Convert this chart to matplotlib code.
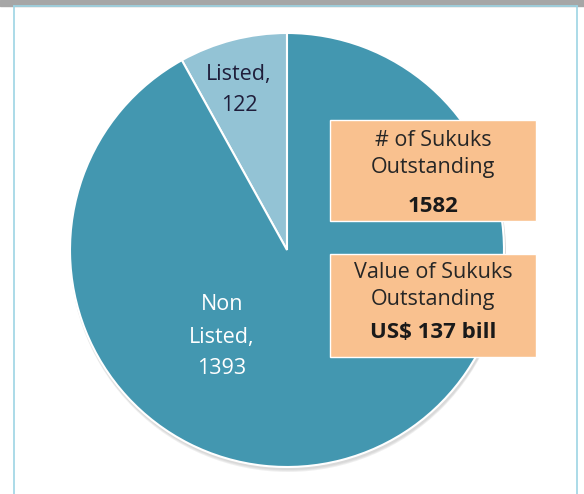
import matplotlib.pyplot as plt
from matplotlib.patches import Rectangle, Circle

plt.rcParams['font.family'] = ['Open Sans', 'DejaVu Sans']

# data
labels = ['Listed', 'Non\nListed']
counts = [122, 1393]
colors = ['#93C3D5', '#4397B0']
total_sukuks = 1582
value_text = 'US$ 137 bill'

W, H = 584, 494
fig = plt.figure(figsize=(W / 100, H / 100), dpi=100)
ax = fig.add_axes([0, 0, 1, 1])

# frame: grey strip on top, thin light blue border
ax.add_patch(Rectangle((0, H - 6), W, 6, color='#A6A6A6', zorder=1))
ax.plot([13.5, 13.5], [0, H - 6.5], color='#9DD4E4', lw=1.2, zorder=1)
ax.plot([577, 577], [0, H - 6.5], color='#9DD4E4', lw=1.2, zorder=1)
ax.plot([13.5, 577], [H - 6.5, H - 6.5], color='#9DD4E4', lw=1.2, zorder=1)

cx, cy, r = 287, H - 250, 217

# soft shadow under the pie
for i, a in enumerate([0.10, 0.10, 0.12]):
    ax.add_patch(Circle((cx + 1, cy - 2 - i), r + 1, color='#808080', alpha=a, lw=0, zorder=2))

wedges, _ = ax.pie(counts, colors=colors, startangle=90, counterclock=True,
                   center=(cx, cy), radius=r, frame=True,
                   wedgeprops=dict(edgecolor='white', linewidth=1.5, zorder=3))
ax.set_xlim(0, W)
ax.set_ylim(0, H)
ax.set_aspect('equal')
ax.axis('off')

fs = 15.5

def lines(x, ys, texts, **kw):
    for y, t in zip(ys, texts):
        ax.text(x, H - y - 2, t, ha='center', va='center', zorder=5, **kw)

# slice labels
lines(239, [73, 104], [f'{labels[0]},', f'{counts[0]}'], fontsize=fs, color='#1f1d3a')
lines(222, [303, 335, 367], labels[1].split('\n')[:1] + [labels[1].split('\n')[1] + ',', f'{counts[1]}'],
      fontsize=fs, color='white')

# info boxes
box_color = '#F9C18F'
ax.add_patch(Rectangle((330, H - 221), 206, 101, facecolor=box_color,
                       edgecolor='white', lw=1, zorder=4))
ax.add_patch(Rectangle((330, H - 357), 206, 103, facecolor=box_color,
                       edgecolor='white', lw=1, zorder=4))

bx = 433
lines(bx, [138, 165], ['# of Sukuks', 'Outstanding'], fontsize=fs, color='#262626')
lines(bx, [204], [f'{total_sukuks}'], fontsize=fs + 0.5, fontweight='bold', color='#1a1a1a')
lines(bx, [271, 298], ['Value of Sukuks', 'Outstanding'], fontsize=fs, color='#262626')
lines(bx, [331], [value_text], fontsize=fs + 0.5, fontweight='bold', color='#1a1a1a')

fig.savefig('out.png', dpi=100)
